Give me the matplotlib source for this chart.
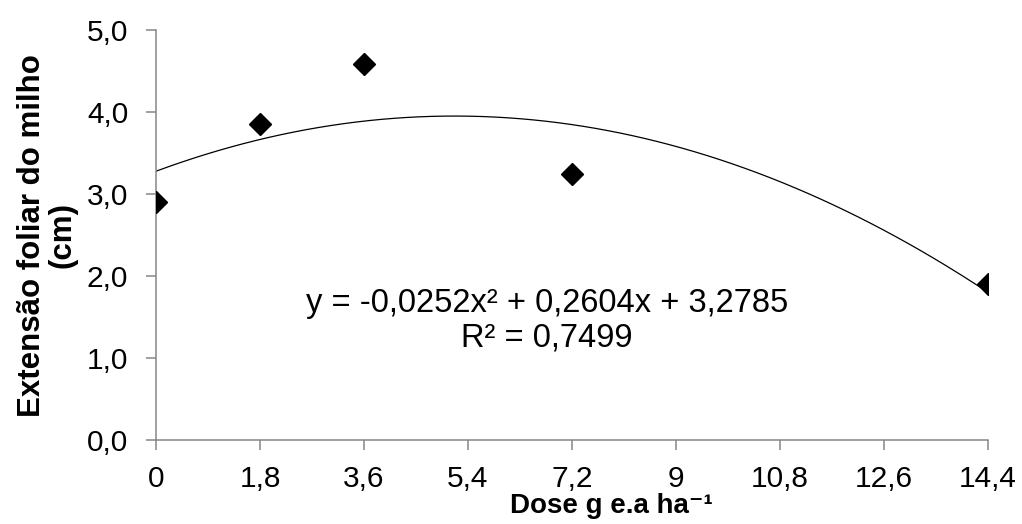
import numpy as np
import matplotlib
matplotlib.use('Agg')
import matplotlib.pyplot as plt

plt.rcParams['font.family'] = ['Liberation Sans', 'DejaVu Sans']

# dados
dose = [0, 1.8, 3.6, 7.2, 14.4]
extensao = [2.9, 3.85, 4.58, 3.24, 1.9]
# coeficientes da linha de tendencia (polinomio de 2o grau)
coef = [-0.0252, 0.2604, 3.2785]
r2 = 0.7499
xticks = [0, 1.8, 3.6, 5.4, 7.2, 9, 10.8, 12.6, 14.4]
xticklabels = ['0', '1,8', '3,6', '5,4', '7,2', '9', '10,8', '12,6', '14,4']
yticks = [0, 1, 2, 3, 4, 5]
yticklabels = ['0,0', '1,0', '2,0', '3,0', '4,0', '5,0']

fig = plt.figure(figsize=(10.22, 5.24), dpi=100)
ax = fig.add_axes([0.1526, 0.160, 0.8141, 0.7827])

# linha de tendencia
xs = np.linspace(dose[0], dose[-1], 200)
ax.plot(xs, np.polyval(coef, xs), color='black', lw=0.9, zorder=2)
ax.plot(dose, extensao, linestyle='none', marker='D', color='black', markersize=11, zorder=3)

ax.set_xlim(0, 14.4)
ax.set_ylim(0, 5)
ax.set_xticks(xticks)
ax.set_xticklabels(xticklabels)
ax.set_yticks(yticks)
ax.set_yticklabels(yticklabels)

for s in ['top', 'right']:
    ax.spines[s].set_visible(False)
for s in ['left', 'bottom']:
    ax.spines[s].set_color('#868686')
    ax.spines[s].set_linewidth(1.1)
ax.tick_params(axis='both', colors='#868686', labelcolor='black', length=7, width=1.1, labelsize=21.5)
ax.tick_params(axis='x', pad=11)
ax.tick_params(axis='y', pad=13)

ax.set_ylabel('Extensão foliar do milho\n(cm)', fontsize=22.5, fontweight='bold', linespacing=1.05)
ax.yaxis.set_label_coords(-0.094, 0.5)
ax.set_xlabel('Dose g e.a ha⁻¹', fontsize=20, fontweight='bold')
ax.xaxis.set_label_coords(0.547, -0.128)

eq = 'y = -0,0252x² + 0,2604x + 3,2785'
ax.text(6.77, 1.561, eq, fontsize=23.5, ha='center', va='baseline')
ax.text(6.77, 1.146, 'R² = ' + f'{r2:.4f}'.replace('.', ','), fontsize=23.5, ha='center', va='baseline')

fig.savefig('out.png', dpi=100, facecolor='white')
